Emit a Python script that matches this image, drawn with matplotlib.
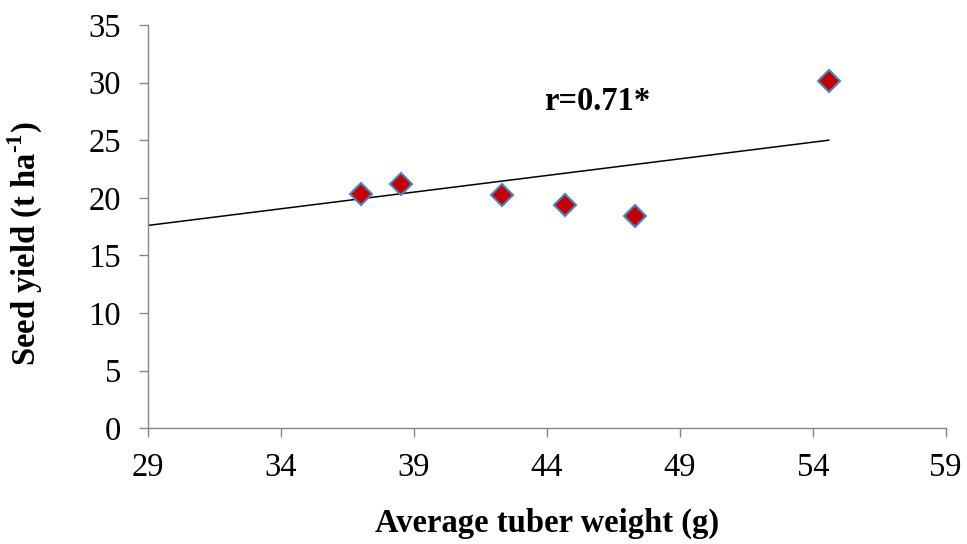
import matplotlib
matplotlib.use("Agg")
import matplotlib.pyplot as plt

# Data
tuber_weight = [37.0, 38.5, 42.3, 44.7, 47.3, 54.6]
seed_yield = [20.3, 21.2, 20.2, 19.4, 18.4, 30.1]
trend_x = [29.0, 54.6]
trend_y = [17.6, 25.0]
x_ticks = [29, 34, 39, 44, 49, 54, 59]
y_ticks = [0, 5, 10, 15, 20, 25, 30, 35]

plt.rcParams['font.family'] = ['Liberation Serif', 'DejaVu Serif']
plt.rcParams['mathtext.fontset'] = 'custom'
plt.rcParams['mathtext.rm'] = 'Liberation Serif:bold'
plt.rcParams['mathtext.bf'] = 'Liberation Serif:bold'

FS = 23.5

fig = plt.figure(figsize=(9.67, 5.44), dpi=100)
ax = fig.add_axes([0.153, 0.213, 0.825, 0.741])

ax.plot(trend_x, trend_y, color='black', lw=1.1, zorder=2)
ax.plot(tuber_weight, seed_yield, linestyle='none', marker='D', markersize=11,
        markerfacecolor='#C00000', markeredgecolor='#4F81BD', markeredgewidth=1.5, zorder=3)

ax.set_xlim(29, 59)
ax.set_ylim(0, 35)
ax.set_xticks(x_ticks)
ax.set_yticks(y_ticks)
ax.tick_params(axis='both', labelsize=FS, length=6.5, width=1, color='#868686', direction='out')
ax.tick_params(axis='x', pad=11)
ax.tick_params(axis='y', pad=13)
for s in ['top', 'right']:
    ax.spines[s].set_visible(False)
for s in ['left', 'bottom']:
    ax.spines[s].set_color('#868686')
    ax.spines[s].set_linewidth(1)

ax.text(45.9, 28.4, 'r=0.71*', fontsize=FS, fontweight='bold', ha='center', va='center')

ax.set_xlabel('Average tuber weight (g)', fontsize=FS, fontweight='bold')
ax.xaxis.set_label_coords(0.5, -0.197)
ax.set_ylabel(r'Seed yield (t ha$^{\text{-1}}$)', fontsize=FS, fontweight='bold')
ax.yaxis.set_label_coords(-0.129, 0.457)

fig.savefig('out.png', dpi=100)
